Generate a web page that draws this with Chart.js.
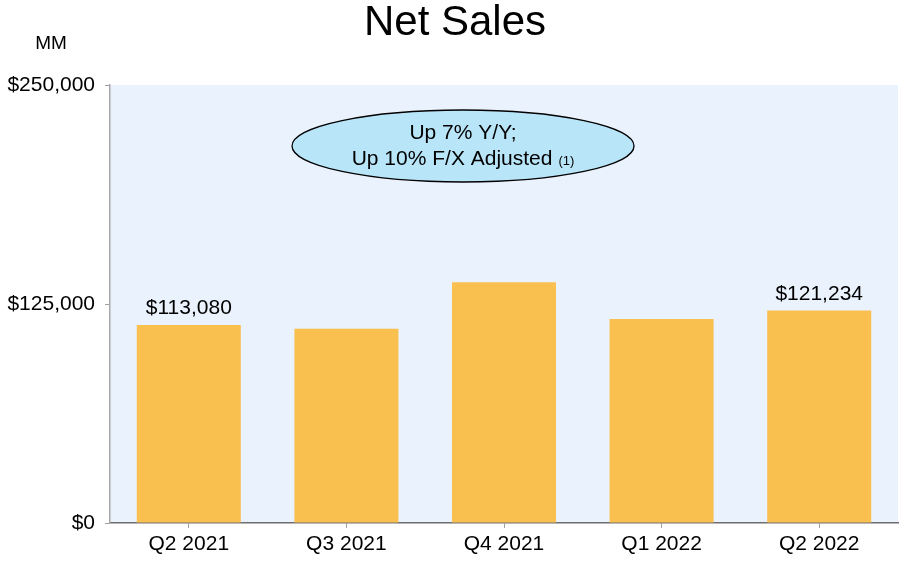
<!DOCTYPE html>
<html>
<head>
<meta charset="utf-8">
<script src="https://cdn.jsdelivr.net/npm/chart.js@4/dist/chart.umd.min.js"></script>
<style>
  body { margin: 0; background: #fff; }
  #wrap { width: 918px; height: 566px; position: relative; }
</style>
</head>
<body>
<div id="wrap"><canvas id="salesChart"></canvas></div>
<script>
const quarters = ['Q2 2021', 'Q3 2021', 'Q4 2021', 'Q1 2022', 'Q2 2022'];
const netSales = [113080, 110812, 137412, 116444, 121234];
const labeledBars = [0, 4];
const yTicks = [0, 125000, 250000];

const FONT = '"Liberation Sans", Arial, sans-serif';
const money = v => '$' + v.toLocaleString('en-US');

// light blue plot background
const plotBg = {
  id: 'plotBg',
  beforeDraw(chart) {
    const { ctx, chartArea: a } = chart;
    ctx.save();
    ctx.fillStyle = '#eaf2fd';
    ctx.fillRect(a.left, a.top, a.right - a.left, a.bottom - a.top);
    ctx.restore();
  }
};

// title, unit, callout ellipse, value labels
const extras = {
  id: 'extras',
  afterDatasetsDraw(chart) {
    const { ctx, chartArea: a } = chart;
    ctx.save();
    ctx.fillStyle = '#000';
    ctx.textAlign = 'center';
    ctx.textBaseline = 'middle';
    ctx.font = '42px ' + FONT;
    ctx.fillText('Net Sales', 455, 23);
    ctx.font = '19px ' + FONT;
    ctx.fillText('MM', 51, 44);

    // callout
    const cx = a.left + (a.right - a.left) * 0.448;
    const cy = a.top + 61;
    ctx.beginPath();
    ctx.ellipse(cx, cy, 171, 36, 0, 0, Math.PI * 2);
    ctx.fillStyle = '#b9e5f9';
    ctx.fill();
    ctx.lineWidth = 1.3;
    ctx.strokeStyle = '#000';
    ctx.stroke();
    ctx.fillStyle = '#000';
    ctx.font = '21px ' + FONT;
    ctx.fillText('Up 7% Y/Y;', cx, cy - 13);
    const l2 = 'Up 10% F/X Adjusted';
    const w2 = ctx.measureText(l2).width;
    ctx.font = '13px ' + FONT;
    const w3 = ctx.measureText('(1)').width;
    const start = cx - (w2 + w3 + 6) / 2;
    ctx.textAlign = 'left';
    ctx.font = '21px ' + FONT;
    ctx.fillText(l2, start, cy + 13);
    ctx.font = '13px ' + FONT;
    ctx.fillText('(1)', start + w2 + 6, cy + 15);

    // value labels
    ctx.textAlign = 'center';
    ctx.textBaseline = 'bottom';
    ctx.font = '21px ' + FONT;
    const meta = chart.getDatasetMeta(0);
    labeledBars.forEach(i => {
      const bar = meta.data[i];
      ctx.fillText(money(netSales[i]), bar.x, bar.y - 6);
    });
    ctx.restore();
  }
};

new Chart(document.getElementById('salesChart'), {
  type: 'bar',
  data: {
    labels: quarters,
    datasets: [{
      label: 'Net Sales',
      data: netSales,
      backgroundColor: '#f9bf4f',
      categoryPercentage: 1,
      barPercentage: 0.66
    }]
  },
  options: {
    responsive: true,
    maintainAspectRatio: false,
    animation: false,
    layout: { padding: { top: 85, right: 20, left: 0, bottom: 0 } },
    plugins: {
      legend: { display: false },
      tooltip: { enabled: false }
    },
    scales: {
      x: {
        afterFit: s => { s.height = 43; },
        border: { color: '#6e6e6e', width: 1.5 },
        grid: { offset: false, drawOnChartArea: false, tickLength: 5, color: '#a0a0a0' },
        ticks: { color: '#000', font: { family: FONT, size: 21 }, padding: 4 }
      },
      y: {
        min: 0,
        max: 250000,
        afterFit: s => { s.width = 110; },
        afterBuildTicks: s => { s.ticks = yTicks.map(v => ({ value: v })); },
        border: { color: '#a8a8a8', width: 1.5 },
        grid: { drawOnChartArea: false, tickLength: 5, color: '#a0a0a0' },
        ticks: {
          color: '#000',
          font: { family: FONT, size: 21 },
          padding: 10,
          callback: v => money(v)
        }
      }
    }
  },
  plugins: [plotBg, extras]
});
</script>
</body>
</html>
